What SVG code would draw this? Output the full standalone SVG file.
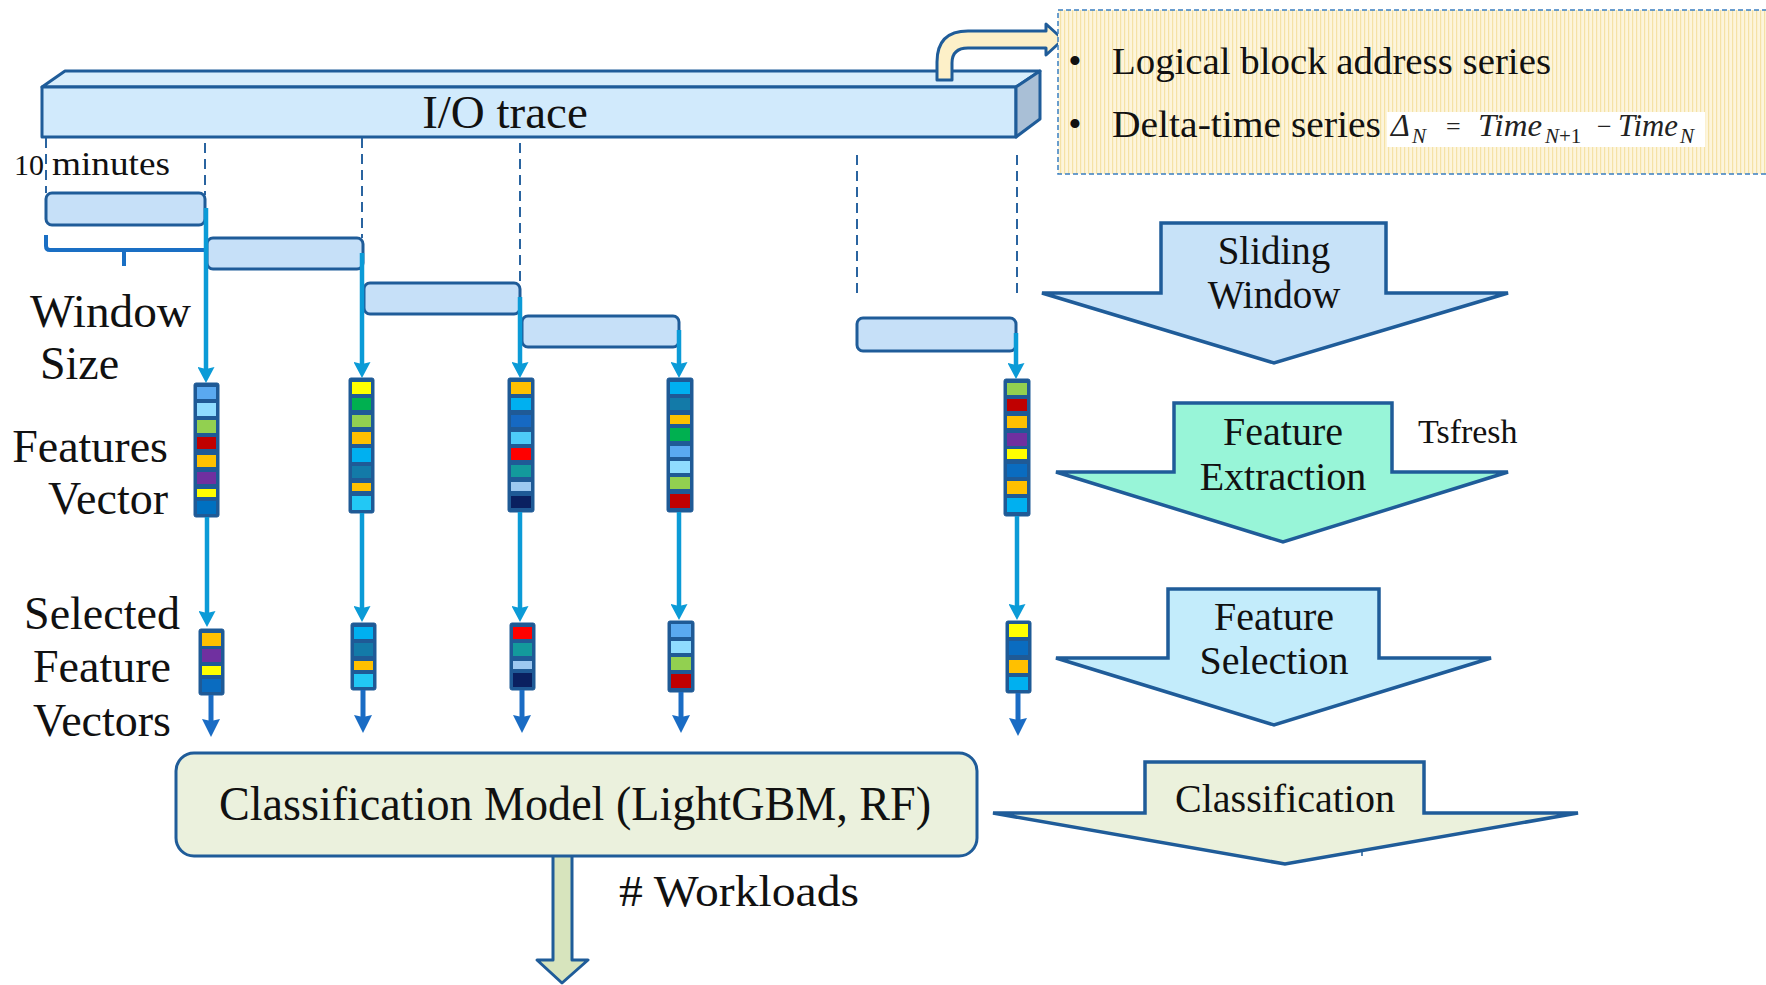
<svg xmlns="http://www.w3.org/2000/svg" width="1766" height="985" viewBox="0 0 1766 985">
<style>
.t{font-family:"Liberation Serif","Times New Roman",serif;fill:#111}
.win{fill:#c6e0f8;stroke:#1f5c99;stroke-width:3}
.dash{stroke:#2a64a0;stroke-width:2;stroke-dasharray:10 6;fill:none}
.lb{stroke:#0b9bd7;stroke-width:4.5;fill:none;marker-end:url(#ah1)}
.db{stroke:#1a6cc4;stroke-width:5;fill:none;marker-end:url(#ah2)}
.vf{fill:#1f5a96;stroke:#1f5a96;stroke-width:1}
.blk{stroke:#1f5c99;stroke-width:3.5;stroke-linejoin:miter}
.ol{stroke:#1f5c99;stroke-width:3;stroke-linejoin:round}
</style>
<defs>
<marker id="ah1" markerUnits="userSpaceOnUse" markerWidth="16" markerHeight="17" viewBox="0 0 16 17" refX="6" refY="8.5" orient="auto"><path d="M0,0 L16,8.5 L0,17 L2,8.5 Z" fill="#0b9bd7"/></marker>
<marker id="ah2" markerUnits="userSpaceOnUse" markerWidth="18" markerHeight="18" viewBox="0 0 18 18" refX="6" refY="9" orient="auto"><path d="M0,0 L18,9 L0,18 L2,9 Z" fill="#1a6cc4"/></marker>
<pattern id="stripe" patternUnits="userSpaceOnUse" width="4" height="4"><rect width="4" height="4" fill="#fdf5dc"/><rect width="1.2" height="4" fill="#f5e2a6"/></pattern>
</defs>

<g id="io-trace">
<polygon class="ol" points="42,87 65,71 1040,71 1016,87" fill="#d9eefc"/>
<rect class="ol" x="42" y="87" width="974" height="50" fill="#d1eafc"/>
<polygon class="ol" points="1016,87 1040,71 1040,119 1016,137" fill="#a9bfd6"/>
<text class="t" x="505" y="128" font-size="47" text-anchor="middle">I/O trace</text>
</g>

<g id="bent-arrow">
<path class="ol" d="M937,80 L937,62 Q937,31 968,31 L1046,31 L1046,24 L1063,39.5 L1046,55 L1046,48 L968,48 Q952,48 952,63 L952,80 Z" fill="#fdf0c8"/>
</g>

<g id="info-box">
<rect x="1058" y="10" width="720" height="164" fill="url(#stripe)" stroke="#3a7fc1" stroke-width="1.5" stroke-dasharray="5 3"/>
<text class="t" x="1075" y="74" font-size="38" text-anchor="middle">•</text>
<text class="t" x="1112" y="74" font-size="38" textLength="439" lengthAdjust="spacingAndGlyphs">Logical block address series</text>
<text class="t" x="1075" y="137" font-size="38" text-anchor="middle">•</text>
<text class="t" x="1112" y="137" font-size="38" textLength="269" lengthAdjust="spacingAndGlyphs">Delta-time series</text>
<rect x="1387" y="112" width="318" height="35" fill="#ffffff"/>
<g font-family="Liberation Serif, Times New Roman, serif" fill="#222">
<text x="1391" y="136" font-size="32" font-style="italic">Δ</text>
<text x="1412" y="143" font-size="21" font-style="italic">N</text>
<text x="1446" y="135" font-size="26">=</text>
<text x="1478" y="136" font-size="31" font-style="italic" textLength="64" lengthAdjust="spacingAndGlyphs">Time</text>
<text x="1545" y="143" font-size="21"><tspan font-style="italic">N</tspan>+1</text>
<text x="1597" y="135" font-size="26">−</text>
<text x="1618" y="136" font-size="31" font-style="italic" textLength="60" lengthAdjust="spacingAndGlyphs">Time</text>
<text x="1680" y="143" font-size="21" font-style="italic">N</text>
</g>
</g>

<g id="dashed-guides">
<line class="dash" x1="46" y1="138" x2="46" y2="193"/>
<line class="dash" x1="205" y1="143" x2="205" y2="195"/>
<line class="dash" x1="362" y1="138" x2="362" y2="238"/>
<line class="dash" x1="520" y1="143" x2="520" y2="283"/>
<line class="dash" x1="857" y1="155" x2="857" y2="293"/>
<line class="dash" x1="1017" y1="155" x2="1017" y2="293"/>
</g>

<g id="windows">
<rect class="win" x="46" y="193" width="159" height="32" rx="6"/>
<rect class="win" x="207" y="238" width="156" height="31" rx="6"/>
<rect class="win" x="364" y="283" width="156" height="31" rx="6"/>
<rect class="win" x="522" y="316" width="157" height="31" rx="6"/>
<rect class="win" x="857" y="318" width="159" height="33" rx="6"/>
</g>

<g id="brace">
<path d="M46,235 L46,246 Q46,250 50,250 L206,250 M124,250 L124,266" fill="none" stroke="#1a6fc4" stroke-width="4"/>
</g>

<g id="labels-left">
<text class="t" x="14" y="175" font-size="30">10</text>
<text class="t" x="52" y="175" font-size="34" textLength="118" lengthAdjust="spacingAndGlyphs">minutes</text>
<text class="t" x="30" y="327" font-size="46" textLength="161" lengthAdjust="spacingAndGlyphs">Window</text>
<text class="t" x="40" y="379" font-size="46">Size</text>
<text class="t" x="168" y="462" font-size="46" text-anchor="end">Features</text>
<text class="t" x="168" y="514" font-size="46" text-anchor="end">Vector</text>
<text class="t" x="102" y="629" font-size="46" text-anchor="middle">Selected</text>
<text class="t" x="102" y="682" font-size="46" text-anchor="middle">Feature</text>
<text class="t" x="102" y="736" font-size="46" text-anchor="middle">Vectors</text>
</g>

<g id="vector-1">
<rect class="vf" x="194" y="383" width="25" height="134" rx="2"/>
<rect x="197" y="387" width="19" height="12" fill="#5aa9f0"/>
<rect x="197" y="403" width="19" height="13" fill="#8fdcff"/>
<rect x="197" y="420" width="19" height="13" fill="#92d050"/>
<rect x="197" y="437" width="19" height="12" fill="#c00000"/>
<rect x="197" y="455" width="19" height="12" fill="#ffc000"/>
<rect x="197" y="472" width="19" height="12" fill="#7030a0"/>
<rect x="197" y="489" width="19" height="8" fill="#ffff00"/>
<rect x="197" y="501" width="19" height="13" fill="#0070c0"/>
</g>
<g id="vector-2">
<rect class="vf" x="349" y="378" width="25" height="135" rx="2"/>
<rect x="352" y="382" width="19" height="12" fill="#ffff00"/>
<rect x="352" y="398" width="19" height="12" fill="#00b050"/>
<rect x="352" y="415" width="19" height="12" fill="#92d050"/>
<rect x="352" y="432" width="19" height="12" fill="#ffc000"/>
<rect x="352" y="448" width="19" height="14" fill="#00b0f0"/>
<rect x="352" y="466" width="19" height="12" fill="#137aa8"/>
<rect x="352" y="483" width="19" height="8" fill="#ffc000"/>
<rect x="352" y="496" width="19" height="14" fill="#22c8f5"/>
</g>
<g id="vector-3">
<rect class="vf" x="508" y="378" width="26" height="134" rx="2"/>
<rect x="511" y="382" width="20" height="12" fill="#ffc000"/>
<rect x="511" y="398" width="20" height="12" fill="#00b0f0"/>
<rect x="511" y="415" width="20" height="12" fill="#1669c2"/>
<rect x="511" y="432" width="20" height="12" fill="#4dcbf8"/>
<rect x="511" y="448" width="20" height="12" fill="#ff0000"/>
<rect x="511" y="465" width="20" height="12" fill="#139a9c"/>
<rect x="511" y="482" width="20" height="9" fill="#9cc8f0"/>
<rect x="511" y="496" width="20" height="12" fill="#0a2060"/>
</g>
<g id="vector-4">
<rect class="vf" x="667" y="378" width="26" height="134" rx="2"/>
<rect x="670" y="382" width="20" height="12" fill="#00b0f0"/>
<rect x="670" y="398" width="20" height="12" fill="#137aa8"/>
<rect x="670" y="415" width="20" height="9" fill="#ffc000"/>
<rect x="670" y="428" width="20" height="13" fill="#00b050"/>
<rect x="670" y="446" width="20" height="11" fill="#5aa9f0"/>
<rect x="670" y="461" width="20" height="12" fill="#8fdcff"/>
<rect x="670" y="477" width="20" height="12" fill="#92d050"/>
<rect x="670" y="494" width="20" height="14" fill="#c00000"/>
</g>
<g id="vector-5">
<rect class="vf" x="1004" y="379" width="26" height="137" rx="2"/>
<rect x="1007" y="383" width="20" height="12" fill="#92d050"/>
<rect x="1007" y="399" width="20" height="12" fill="#c00000"/>
<rect x="1007" y="416" width="20" height="12" fill="#ffc000"/>
<rect x="1007" y="433" width="20" height="13" fill="#7030a0"/>
<rect x="1007" y="449" width="20" height="10" fill="#ffff00"/>
<rect x="1007" y="464" width="20" height="13" fill="#0a6cc0"/>
<rect x="1007" y="481" width="20" height="13" fill="#ffc000"/>
<rect x="1007" y="498" width="20" height="14" fill="#00b0f0"/>
</g>

<g id="selected-1">
<rect class="vf" x="199" y="629" width="25" height="66" rx="2"/>
<rect x="202" y="633" width="19" height="13" fill="#ffc000"/>
<rect x="202" y="649" width="19" height="13" fill="#7030a0"/>
<rect x="202" y="666" width="19" height="9" fill="#ffff00"/>
<rect x="202" y="679" width="19" height="13" fill="#0a6cc0"/>
</g>
<g id="selected-2">
<rect class="vf" x="351" y="623" width="25" height="67" rx="2"/>
<rect x="354" y="627" width="19" height="12" fill="#00b0f0"/>
<rect x="354" y="643" width="19" height="13" fill="#137aa8"/>
<rect x="354" y="661" width="19" height="9" fill="#ffc000"/>
<rect x="354" y="674" width="19" height="13" fill="#22c8f5"/>
</g>
<g id="selected-3">
<rect class="vf" x="510" y="623" width="25" height="67" rx="2"/>
<rect x="513" y="627" width="19" height="12" fill="#ff0000"/>
<rect x="513" y="643" width="19" height="13" fill="#139a9c"/>
<rect x="513" y="661" width="19" height="8" fill="#9cc8f0"/>
<rect x="513" y="673" width="19" height="14" fill="#0a2060"/>
</g>
<g id="selected-4">
<rect class="vf" x="668" y="621" width="26" height="71" rx="2"/>
<rect x="671" y="624" width="20" height="13" fill="#5aa9f0"/>
<rect x="671" y="641" width="20" height="12" fill="#8fdcff"/>
<rect x="671" y="657" width="20" height="13" fill="#92d050"/>
<rect x="671" y="674" width="20" height="14" fill="#c00000"/>
</g>
<g id="selected-5">
<rect class="vf" x="1006" y="621" width="25" height="72" rx="2"/>
<rect x="1009" y="624" width="19" height="13" fill="#ffff00"/>
<rect x="1009" y="641" width="19" height="14" fill="#0a6cc0"/>
<rect x="1009" y="660" width="19" height="13" fill="#ffc000"/>
<rect x="1009" y="677" width="19" height="13" fill="#00b0f0"/>
</g>

<g id="connectors">
<line class="lb" x1="206" y1="208" x2="206" y2="373"/>
<line class="lb" x1="362" y1="253" x2="362" y2="368"/>
<line class="lb" x1="520" y1="297" x2="520" y2="368"/>
<line class="lb" x1="679" y1="330" x2="679" y2="368"/>
<line class="lb" x1="1016" y1="333" x2="1016" y2="369"/>
<line class="lb" x1="207" y1="517" x2="207" y2="617"/>
<line class="lb" x1="362" y1="513" x2="362" y2="612"/>
<line class="lb" x1="520" y1="512" x2="520" y2="612"/>
<line class="lb" x1="679" y1="512" x2="679" y2="610"/>
<line class="lb" x1="1017" y1="516" x2="1017" y2="610"/>
<line class="db" x1="211" y1="695" x2="211" y2="725"/>
<line class="db" x1="363" y1="690" x2="363" y2="721"/>
<line class="db" x1="522" y1="690" x2="522" y2="721"/>
<line class="db" x1="681" y1="692" x2="681" y2="721"/>
<line class="db" x1="1018" y1="693" x2="1018" y2="724"/>
</g>

<g id="output-arrow">
<path class="ol" d="M553,856 L553,960 L537,960 L562,983 L588,960 L572,960 L572,856" fill="#d7e4bd"/>
</g>

<g id="classification-model">
<rect x="176" y="753" width="801" height="103" rx="18" fill="#ebf1dd" stroke="#1f5c99" stroke-width="3"/>
<text class="t" x="575" y="820" font-size="48" text-anchor="middle" textLength="712" lengthAdjust="spacingAndGlyphs">Classification Model (LightGBM, RF)</text>
</g>

<g id="workloads-label">
<text class="t" x="619" y="906" font-size="44" textLength="240" lengthAdjust="spacingAndGlyphs"># Workloads</text>
</g>

<g id="step-sliding-window">
<path class="blk" d="M1161,223 L1386,223 L1386,293 L1508,293 L1274,363 L1042,293 L1161,293 Z" fill="#c7e2f8"/>
<text class="t" x="1274" y="264" font-size="39" text-anchor="middle">Sliding</text>
<text class="t" x="1274" y="308" font-size="39" text-anchor="middle">Window</text>
</g>

<g id="step-feature-extraction">
<path class="blk" d="M1174,403 L1392,403 L1392,472 L1508,472 L1283,542 L1056,472 L1174,472 Z" fill="#98f5d8"/>
<text class="t" x="1283" y="445" font-size="40" text-anchor="middle">Feature</text>
<text class="t" x="1283" y="490" font-size="40" text-anchor="middle">Extraction</text>
<text class="t" x="1418" y="443" font-size="34">Tsfresh</text>
</g>

<g id="step-feature-selection">
<path class="blk" d="M1168,589 L1379,589 L1379,658 L1491,658 L1274,725 L1056,658 L1168,658 Z" fill="#c3ecfb"/>
<text class="t" x="1274" y="630" font-size="40" text-anchor="middle">Feature</text>
<text class="t" x="1274" y="674" font-size="40" text-anchor="middle">Selection</text>
</g>

<g id="step-classification">
<path class="blk" d="M1145,762 L1424,762 L1424,813 L1578,813 L1285,864 L993,813 L1145,813 Z" fill="#ebf1dc"/>
<line x1="1362" y1="849" x2="1362" y2="856" stroke="#1f5c99" stroke-width="1.5"/>
<text class="t" x="1285" y="812" font-size="40" text-anchor="middle">Classification</text>
</g>
</svg>
